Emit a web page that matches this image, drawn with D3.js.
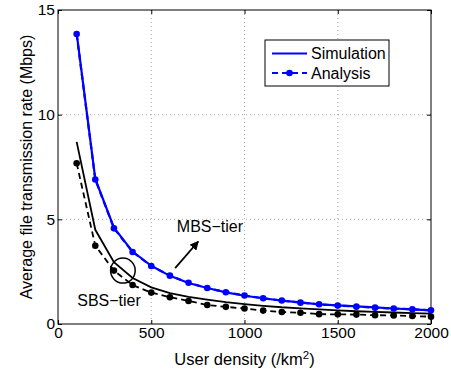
<!DOCTYPE html>
<html>
<head>
<meta charset="utf-8">
<script src="https://cdn.jsdelivr.net/npm/d3@7"></script>
<style>
  body { margin: 0; background: #fff; }
  svg { font-family: "Liberation Sans", Arial, sans-serif; }
  .grid line { stroke: #aaa; stroke-dasharray: 1,3; }
</style>
</head>
<body>
<div id="chart"></div>
<script>
// user density (/km^2)
const density = [100, 200, 300, 400, 500, 600, 700, 800, 900, 1000,
                 1100, 1200, 1300, 1400, 1500, 1600, 1700, 1800, 1900, 2000];

// MBS-tier (blue)
const mbsSimulation = [13.9, 6.93, 4.6, 3.46, 2.78, 2.3, 1.96, 1.72, 1.51, 1.35,
                       1.23, 1.12, 1.03, 0.94, 0.89, 0.84, 0.79, 0.74, 0.70, 0.65];
const mbsAnalysis = [13.85, 6.9, 4.57, 3.44, 2.77, 2.31, 1.97, 1.72, 1.52, 1.36,
                     1.23, 1.12, 1.02, 0.94, 0.88, 0.83, 0.78, 0.74, 0.70, 0.66];

// SBS-tier (black)
const sbsSimulation = [8.7, 4.5, 2.95, 2.2, 1.75, 1.48, 1.3, 1.16, 1.04, 0.95,
                       0.87, 0.8, 0.75, 0.7, 0.65, 0.61, 0.58, 0.55, 0.52, 0.5];
const sbsAnalysis = [7.68, 3.74, 2.55, 1.86, 1.5, 1.28, 1.1, 0.91, 0.82, 0.74,
                     0.64, 0.57, 0.54, 0.47, 0.46, 0.45, 0.42, 0.41, 0.38, 0.35];

const xTicks = [0, 500, 1000, 1500, 2000];
const yTicks = [0, 5, 10, 15];
const legendLabels = ["Simulation", "Analysis"];

const W = 451, H = 375;
const margin = { top: 10, right: 20, bottom: 51, left: 58 };
const width = 431 - margin.left;
const height = 324 - margin.top;

const svg = d3.select("#chart").append("svg")
  .attr("width", W).attr("height", H);
const g = svg.append("g")
  .attr("transform", `translate(${margin.left},${margin.top})`);

const x = d3.scaleLinear().domain([0, 2000]).range([0, width]);
const y = d3.scaleLinear().domain([0, 15]).range([height, 0]);

// grid
g.append("g").attr("class", "grid")
  .selectAll("line").data(xTicks.slice(1, -1)).join("line")
  .attr("x1", d => x(d)).attr("x2", d => x(d))
  .attr("y1", 0).attr("y2", height);
g.append("g").attr("class", "grid")
  .selectAll("line").data(yTicks.slice(1, -1)).join("line")
  .attr("y1", d => y(d)).attr("y2", d => y(d))
  .attr("x1", 0).attr("x2", width);

// axes, ticks inside like matlab
const fs = "15.5px";
const fmt = d3.format("d");
g.append("g").attr("transform", `translate(0,${height})`)
  .call(d3.axisBottom(x).tickValues(xTicks).tickFormat(fmt)
    .tickSizeInner(-4).tickSizeOuter(0).tickPadding(3));
g.append("g")
  .call(d3.axisLeft(y).tickValues(yTicks).tickFormat(fmt)
    .tickSizeInner(-4).tickSizeOuter(0).tickPadding(3));
g.append("g")
  .call(d3.axisTop(x).tickValues(xTicks).tickSizeInner(-4).tickSizeOuter(0).tickFormat(""));
g.append("g").attr("transform", `translate(${width},0)`)
  .call(d3.axisRight(y).tickValues(yTicks).tickSizeInner(-4).tickSizeOuter(0).tickFormat(""));
g.selectAll(".domain").remove();
g.selectAll(".tick line").attr("stroke", "#000");
g.selectAll(".tick text").attr("font-size", fs).attr("fill", "#000")
  .attr("font-family", "'Liberation Sans', Arial, sans-serif");

g.append("rect").attr("width", width).attr("height", height)
  .attr("fill", "none").attr("stroke", "#000").attr("stroke-width", 1);

// curves
const line = d3.line().x((d, i) => x(density[i])).y(d => y(d));

function drawSeries(values, color, dashed, markers, sw) {
  g.append("path").datum(values)
    .attr("fill", "none").attr("stroke", color).attr("stroke-width", sw)
    .attr("stroke-dasharray", dashed ? "6,4" : null)
    .attr("d", line);
  if (markers) {
    g.append("g").selectAll("circle").data(values).join("circle")
      .attr("cx", (d, i) => x(density[i])).attr("cy", d => y(d))
      .attr("r", 3.3).attr("fill", color);
  }
}

drawSeries(sbsAnalysis, "#000", true, true, 1.8);
drawSeries(sbsSimulation, "#000", false, false, 1.8);
drawSeries(mbsAnalysis, "#0000ff", true, true, 2.2);
drawSeries(mbsSimulation, "#0000ff", false, false, 2.2);

// annotations
g.append("ellipse")
  .attr("cx", x(348)).attr("cy", y(2.55))
  .attr("rx", 12.3).attr("ry", 12.5)
  .attr("fill", "none").attr("stroke", "#000").attr("stroke-width", 1.5);

svg.append("defs").append("marker")
  .attr("id", "arrow").attr("viewBox", "0 0 10 10")
  .attr("refX", 9).attr("refY", 5)
  .attr("markerWidth", 5).attr("markerHeight", 5)
  .attr("orient", "auto")
  .append("path").attr("d", "M0,0 L10,5 L0,10 z").attr("fill", "#000");

g.append("line")
  .attr("x1", x(628)).attr("y1", y(2.67))
  .attr("x2", x(752)).attr("y2", y(3.94))
  .attr("stroke", "#000").attr("stroke-width", 1.8)
  .attr("marker-end", "url(#arrow)");

g.append("text").attr("x", x(637)).attr("y", y(4.4))
  .attr("font-size", "16px").text("MBS\u2212tier");
g.append("text").attr("x", x(103)).attr("y", y(0.87))
  .attr("font-size", "16px").text("SBS\u2212tier");

// axis labels
const xl = svg.append("text")
  .attr("x", margin.left + width / 2).attr("y", 365)
  .attr("text-anchor", "middle").attr("font-size", "16.5px");
xl.append("tspan").text("User density (/km");
xl.append("tspan").attr("font-size", "11.5px").attr("dy", -6).text("2");
xl.append("tspan").attr("dy", 6).text(")");

svg.append("text")
  .attr("transform", `translate(32,${margin.top + height / 2}) rotate(-90)`)
  .attr("text-anchor", "middle").attr("font-size", "16px")
  .text("Average file transmission rate (Mbps)");

// legend
const lg = svg.append("g").attr("transform", "translate(265,40)");
lg.append("rect").attr("width", 124).attr("height", 46)
  .attr("fill", "#fff").attr("stroke", "#000");
legendLabels.forEach((lab, i) => {
  const ly = 13.5 + i * 19.5;
  lg.append("line").attr("x1", 7).attr("x2", 42).attr("y1", ly).attr("y2", ly)
    .attr("stroke", "#0000ff").attr("stroke-width", 2.2)
    .attr("stroke-dasharray", i === 1 ? "6,4" : null);
  if (i === 1) {
    lg.append("circle").attr("cx", 24.5).attr("cy", ly).attr("r", 3.3).attr("fill", "#0000ff");
  }
  lg.append("text").attr("x", 46).attr("y", ly + 5.5)
    .attr("font-size", "16px").text(lab);
});
</script>
</body>
</html>
